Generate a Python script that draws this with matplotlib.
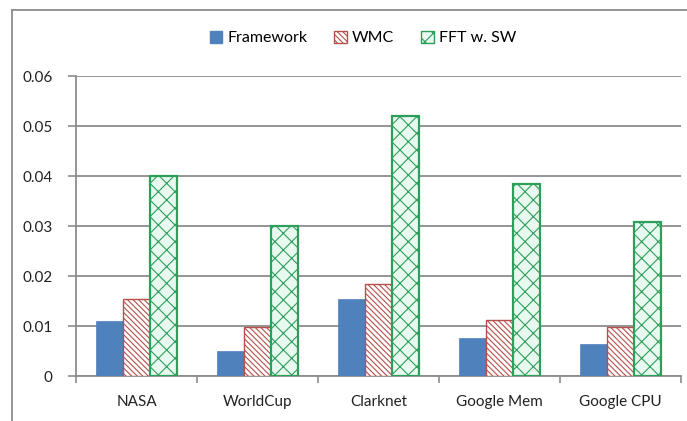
import matplotlib

matplotlib.use("Agg")
import matplotlib.pyplot as plt
import numpy as np
from matplotlib.lines import Line2D
from matplotlib.patches import Patch

plt.rcParams["font.family"] = ["Lato", "DejaVu Sans"]
plt.rcParams["hatch.linewidth"] = 0.8

categories = ["NASA", "WorldCup", "Clarknet", "Google Mem", "Google CPU"]
framework = [0.0111, 0.0050, 0.0154, 0.0076, 0.0065]
wmc = [0.0155, 0.0099, 0.0185, 0.0113, 0.0098]
fft_sw = [0.0401, 0.0300, 0.0520, 0.0384, 0.0309]
yticks = [0, 0.01, 0.02, 0.03, 0.04, 0.05, 0.06]
ytick_labels = ["0", "0.01", "0.02", "0.03", "0.04", "0.05", "0.06"]

grey = "#8c8c8c"
blue = "#4f81bd"
red = "#b5504c"
green = "#2e9e5b"
mint = "#e8faf0"
red_hatch = "\\" * 6

W, H = 687, 421
fig = plt.figure(figsize=(W / 100, H / 100), dpi=100)
ax = fig.add_axes([76 / W, (H - 376) / H, (681 - 76) / W, 300 / H])

x = np.arange(len(categories))
bw = 1 / 4.5
ax.bar(x - bw, framework, bw, color=blue, edgecolor=blue, linewidth=0.5, zorder=3)
ax.bar(x, wmc, bw, color="white", edgecolor=red, hatch=red_hatch, linewidth=1.0, zorder=3)
ax.bar(x + bw, fft_sw, bw, color=mint, edgecolor=green, hatch="xx", linewidth=1.6, zorder=3)

ax.set_xlim(-0.5, len(categories) - 0.5)
ax.set_ylim(0, 0.06)
ax.set_yticks(yticks)
ax.set_yticklabels(ytick_labels)
ax.yaxis.grid(True, color=grey, linewidth=1.3, zorder=0)
ax.set_axisbelow(True)

# category boundaries carry the x ticks, labels sit in the middle
ax.set_xticks(np.arange(len(categories) + 1) - 0.5)
ax.set_xticklabels([])
ax.set_xticks(x, minor=True)
ax.set_xticklabels(categories, minor=True)
ax.tick_params(axis="x", which="minor", length=0, pad=14, labelsize=11, colors="#222222")
ax.tick_params(axis="x", which="major", length=5, width=1.2, color=grey, direction="out")
ax.tick_params(axis="y", length=6, width=1.2, color=grey, pad=11, labelsize=11, labelcolor="#222222")

for side in ["top", "right"]:
    ax.spines[side].set_visible(False)
for side in ["left", "bottom"]:
    ax.spines[side].set_color(grey)
    ax.spines[side].set_linewidth(1.3)

handles = [
    Patch(facecolor=blue, edgecolor=blue),
    Patch(facecolor="white", edgecolor=red, hatch=red_hatch),
    Patch(facecolor=mint, edgecolor=green, hatch="xx"),
]
fig.legend(handles, ["Framework", "WMC", "FFT w. SW"], loc="center",
           bbox_to_anchor=(363 / W, 1 - 38 / H), ncol=3, frameon=False,
           fontsize=11.5, handlelength=0.8, handleheight=0.8, handletextpad=0.3,
           columnspacing=1.7)

# outer chart border
fig.add_artist(Line2D([12.5 / W, 12.5 / W], [0, 1 - 9.5 / H], color=grey, linewidth=1.3))
fig.add_artist(Line2D([12.5 / W, 1], [1 - 9.5 / H, 1 - 9.5 / H], color=grey, linewidth=1.3))

fig.savefig("out.png", dpi=100)
